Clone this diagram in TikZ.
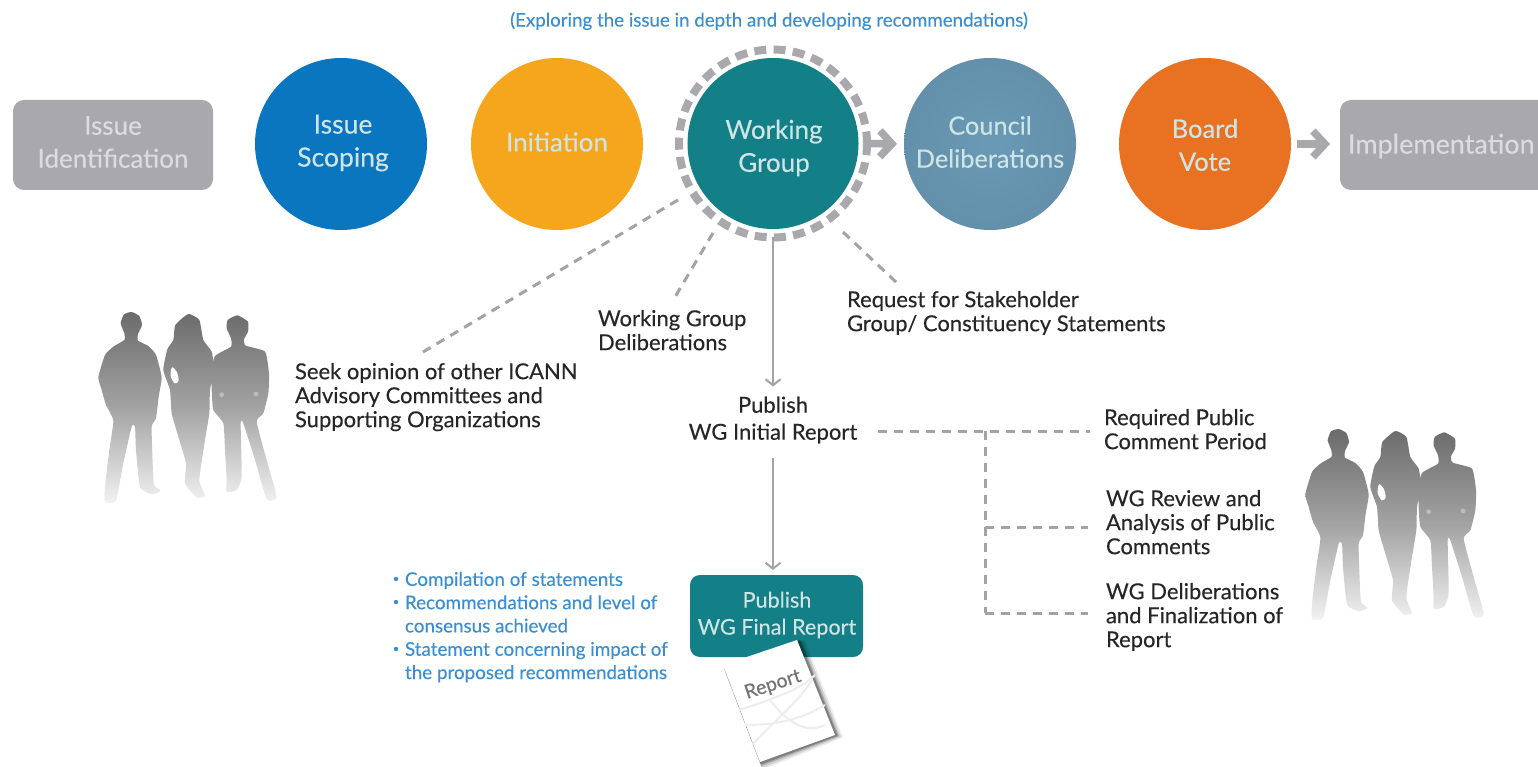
\documentclass[tikz,border=0pt]{standalone}
\usepackage{fontspec}
\setmainfont[FakeBold=0.2]{Lato}
\usetikzlibrary{arrows.meta}
\definecolor{cblue}{HTML}{0B76C0}
\definecolor{cyellow}{HTML}{F5A61C}
\definecolor{cteal}{HTML}{137F86}
\definecolor{csteel}{HTML}{6A9AB6}
\definecolor{corange}{HTML}{E97222}
\definecolor{cgrey}{HTML}{A9A9AD}
\definecolor{ctxtgrey}{HTML}{DCDCDE}
\definecolor{ctxtlight}{HTML}{CFE4E5}
\definecolor{cbluetxt}{HTML}{3A8FD2}
\definecolor{cdark}{HTML}{262626}
\definecolor{cdash}{HTML}{A3A3A6}
\tikzset{
  every node/.style={inner sep=0pt,outer sep=0pt},
  ball/.style={circle,minimum size=172pt},
  balltext/.style={text=ctxtlight,align=center,font=\fontsize{26}{33}\selectfont},
  greybox/.style={rectangle,rounded corners=11pt,fill=cgrey,minimum height=90pt},
  greytext/.style={text=ctxtgrey,align=center,font=\fontsize{26}{33}\selectfont},
  lab/.style={text=cdark,align=left,font=\fontsize{22}{24}\selectfont},
  bluelab/.style={text=cbluetxt,align=left,font=\fontsize{18.8}{23.3}\selectfont},
  blockarrow/.style={draw=cgrey,line width=7.5pt,-{Straight Barb[length=12pt,width=26pt,line width=7.5pt]}},
  thinarrow/.style={draw=cdash,line width=2.6pt,-{Straight Barb[length=6pt,width=15pt,line width=2pt]}},
  thindash/.style={draw=cdash,line width=3pt,dash pattern=on 9pt off 7pt},
  people/.pic={
    \path[top color=black!58,bottom color=black!5,middle color=black!36]
      plot[smooth cycle,tension=.3] coordinates {(122,100)(132,73)(155,66)(178,78)(186,105)(174,132)(174,152)(205,168)(228,195)(245,262)(236,320)(228,385)(215,410)(218,520)(222,585)(242,603)(215,613)(180,592)(168,480)(165,410)(155,410)(130,520)(108,632)(75,636)(75,590)(88,480)(100,392)(78,345)(65,300)(55,262)(75,195)(100,170)(133,150)(133,130)}
      plot[smooth cycle,tension=.3] coordinates {(325,72)(358,90)(370,150)(395,185)(402,240)(390,300)(388,370)(375,450)(358,570)(375,618)(350,622)(315,580)(318,520)(295,440)(275,370)(270,300)(250,240)(262,178)(280,150)(286,105)}
      plot[smooth cycle,tension=.3] coordinates {(472,76)(504,95)(504,125)(492,148)(497,167)(555,185)(567,250)(565,310)(550,370)(530,395)(560,510)(590,622)(560,627)(525,510)(490,400)(482,400)(485,560)(470,600)(440,606)(440,570)(435,480)(430,400)(400,360)(395,300)(395,250)(405,198)(453,170)(453,145)(440,115)(443,90)};
    \fill[white] plot[smooth cycle,tension=.5] coordinates {(276,232)(290,245)(296,272)(284,280)(272,258)};
    \fill[white,opacity=.35] (425,314) circle[radius=7];
    \fill[white,opacity=.35] (528,312) circle[radius=7];
  }
}
\begin{document}
\begin{tikzpicture}[x=1pt,y=-1pt]
\useasboundingbox (0,0) rectangle (1538,767);
\fill[white] (0,0) rectangle (1538,767);

% silhouettes
\pic[shift={(80,290)},scale=1/3,yscale=1] {people};
\pic[shift={(1287,407)},scale=1/3,yscale=1] {people};

% header
\node[text=cbluetxt,font=\fontsize{18.7}{20}\selectfont] (head) at (769,21) {(Exploring the issue in depth and developing recommendations)};

% process row
\node[greybox,minimum width=200pt] (ident) at (113,145) {};
\node[greytext] (identt) at (113,142) {Issue\\Identification};
\node[ball,fill=cblue] (scope) at (341,144) {};
\node[balltext,font=\fontsize{26.5}{33}\selectfont] (scopet) at (343,143) {Issue\\Scoping};
\node[ball,fill=cyellow] (init) at (557,144) {};
\node[balltext] (initt) at (557,142) {Initiation};
\node[circle,minimum size=188pt,draw=cgrey,line width=8pt,dash pattern=on 12pt off 7.3pt] (ring) at (773,143.5) {};
\node[ball,minimum size=171pt,fill=cteal] (wg) at (773,143.5) {};
\node[balltext] (wgt) at (774,148) {Working\\Group};
\node[ball,inner color=csteel,outer color=csteel!93!black] (council) at (990,144) {};
\node[balltext,font=\fontsize{25.3}{33}\selectfont] (councilt) at (990,142) {Council\\Deliberations};
\node[ball,fill=corange] (board) at (1205,144) {};
\node[balltext,font=\fontsize{25.5}{33}\selectfont] (boardt) at (1205,145) {Board\\Vote};
\fill[cgrey,rounded corners=11pt] (1340,100) rectangle (1560,190);
\node[text=ctxtgrey,font=\fontsize{27}{33}\selectfont,anchor=west] (impl) at (1348,146) {Implementation};
\coordinate (implw) at (1340,144);

\draw[blockarrow,shorten <=9pt,shorten >=7pt] (wg.east) -- (council.west);
\draw[blockarrow,shorten <=6pt,shorten >=10pt] (board.east) -- (implw);

% labels
\node[lab,anchor=north west] (seek) at (295,363) {Seek opinion of other ICANN\\Advisory Committees and\\Supporting Organizations};
\node[lab,anchor=north west] (delib) at (598,310) {Working Group\\Deliberations};
\node[lab,anchor=north west] (req) at (847,291) {Request for Stakeholder\\Group/ Constituency Statements};
\node[lab,align=center,font=\fontsize{22}{27}\selectfont] (initial) at (773,420) {Publish\\WG Initial Report};
\node[lab,anchor=north west] (pc) at (1104,409) {Required Public\\Comment Period};
\node[lab,anchor=north west] (rev) at (1106,490) {WG Review and\\Analysis of Public\\Comments};
\node[lab,anchor=north west] (fin) at (1106,583) {WG Deliberations\\and Finalization of\\Report};

% dashed connectors
\coordinate (seekend) at (423,352);
\coordinate (seekstart) at (678,200);
\coordinate (delibend) at (675,297);
\coordinate (delibstart) at (713,233);
\coordinate (reqend) at (897,283);
\coordinate (reqstart) at (843,232);
\draw[thindash] (seekstart) -- (seekend);
\draw[thindash] (delibstart) -- (delibend);
\draw[thindash] (reqstart) -- (reqend);

\coordinate (j0) at (985,431);
\coordinate (j1) at (985,527);
\coordinate (j2) at (985,613);
\coordinate (e0) at (1090,431);
\coordinate (e1) at (1088,527);
\coordinate (e2) at (1088,613);
\coordinate (s0) at (878,431);
\draw[thindash] (s0) -- (e0);
\draw[thindash] (j0) -- (j2);
\draw[thindash] (j1) -- (e1);
\draw[thindash] (j2) -- (e2);

% final report box
\node[rectangle,rounded corners=10pt,fill=cteal,minimum width=173pt,minimum height=82pt] (final) at (776.5,616) {};
\node[text=ctxtlight,align=center,font=\fontsize{21.6}{27}\selectfont] (finalt) at (777,615) {Publish\\WG Final Report};

\draw[thinarrow,shorten >=10pt] (ring.south) -- (initial.north);
\draw[thinarrow,shorten <=15pt,shorten >=5pt] (initial.south) -- (initial.south |- final.north);

% bullets
\node[bluelab,anchor=north west] (bul) at (405,572) {Compilation of statements\\Recommendations and level of\\consensus achieved\\Statement concerning impact of\\the proposed recommendations};
\foreach \n/\y in {b1/579,b2/602,b3/649}{\fill[cbluetxt] (396,\y) circle (2.2pt);}

% report document
\foreach \d/\o in {8/.07,6/.12,4/.18,2.5/.25}{
  \fill[black,opacity=\o] (723+\d*.3,665+\d) -- (797+\d,640) -- (835+\d,735+\d*.3) -- (760+\d*.3,762+\d) -- cycle;
}
\fill[white] (723,665) -- (797,640) -- (835,735) -- (760,762) -- cycle;
\draw[black!7,line width=2pt] (739,710) .. controls (770,700) and (800,690) .. (815,675);
\draw[black!7,line width=2pt] (752,745) .. controls (775,720) and (800,700) .. (812,680);
\draw[black!7,line width=2pt] (770,700) .. controls (785,720) and (805,735) .. (825,725);
\draw[black!7,line width=2pt] (745,725) .. controls (775,725) and (800,720) .. (825,705);
\node[rotate=18,text=black!55,font=\fontsize{19.5}{20}\selectfont] (rep) at (773,685) {Report};
\end{tikzpicture}
\end{document}
